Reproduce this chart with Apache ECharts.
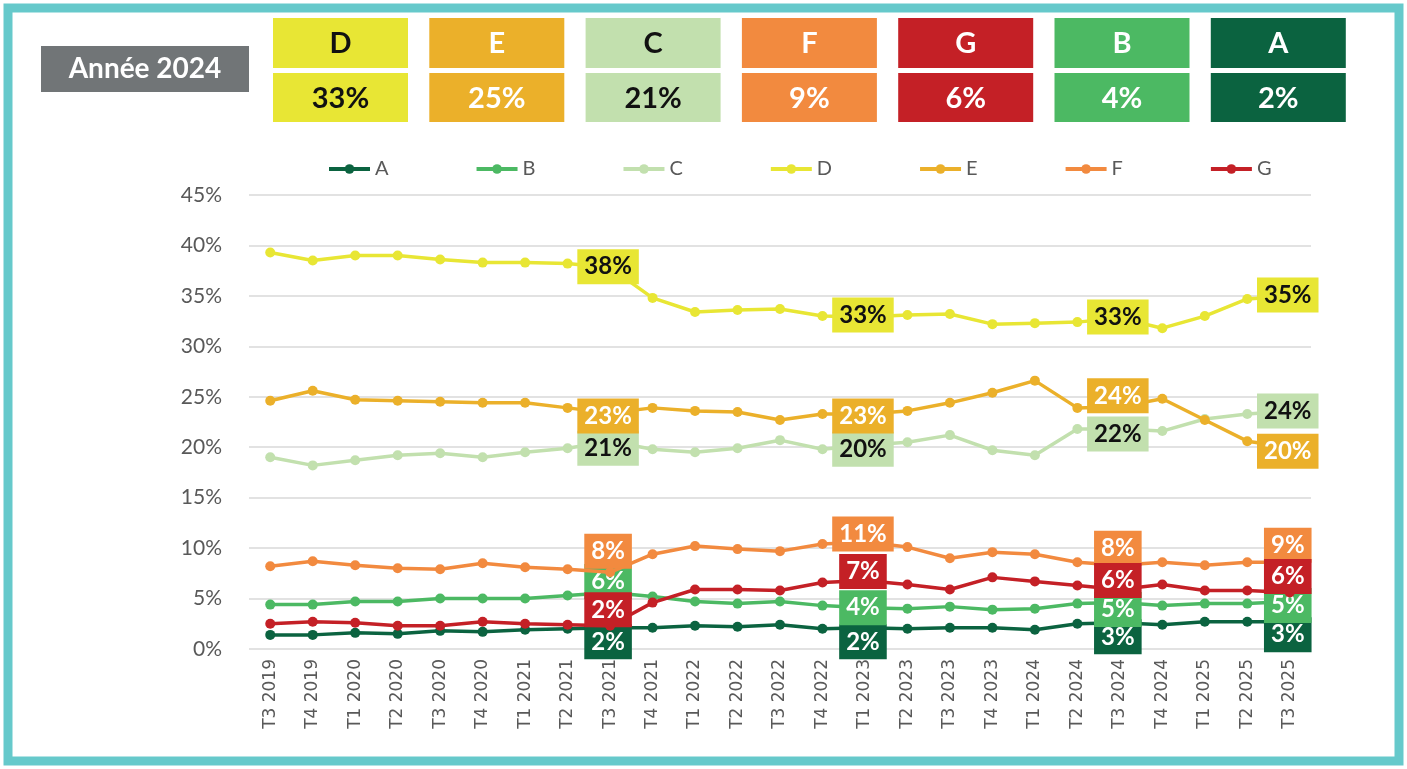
<!DOCTYPE html>
<html>
<head>
<meta charset="utf-8">
<title>Répartition par étiquette</title>
<script src="https://cdn.jsdelivr.net/npm/echarts@6/dist/echarts.min.js"></script>
<style>
  html, body { margin: 0; padding: 0; background: #fff; }
  #chart { width: 1407px; height: 769px; }
</style>
</head>
<body>
<div id="chart"></div>
<script>
// trimestres
var categories = ['T3 2019', 'T4 2019', 'T1 2020', 'T2 2020', 'T3 2020', 'T4 2020', 'T1 2021', 'T2 2021',
  'T3 2021', 'T4 2021', 'T1 2022', 'T2 2022', 'T3 2022', 'T4 2022', 'T1 2023', 'T2 2023', 'T3 2023',
  'T4 2023', 'T1 2024', 'T2 2024', 'T3 2024', 'T4 2024', 'T1 2025', 'T2 2025', 'T3 2025'];

// parts en %
var seriesA = [1.4, 1.4, 1.6, 1.5, 1.8, 1.7, 1.9, 2.0, 2.1, 2.1, 2.3, 2.2, 2.4, 2.0, 2.1, 2.0, 2.1, 2.1, 1.9, 2.5, 2.6, 2.4, 2.7, 2.7, 2.7];
var seriesB = [4.4, 4.4, 4.7, 4.7, 5.0, 5.0, 5.0, 5.3, 5.6, 5.2, 4.7, 4.5, 4.7, 4.3, 4.1, 4.0, 4.2, 3.9, 4.0, 4.5, 4.6, 4.3, 4.5, 4.5, 4.7];
var seriesC = [19.0, 18.2, 18.7, 19.2, 19.4, 19.0, 19.5, 19.9, 20.6, 19.8, 19.5, 19.9, 20.7, 19.8, 20.2, 20.5, 21.2, 19.7, 19.2, 21.8, 21.8, 21.6, 22.8, 23.3, 23.6];
var seriesD = [39.3, 38.5, 39.0, 39.0, 38.6, 38.3, 38.3, 38.2, 37.8, 34.8, 33.4, 33.6, 33.7, 33.0, 32.9, 33.1, 33.2, 32.2, 32.3, 32.4, 32.8, 31.8, 33.0, 34.7, 35.0];
var seriesE = [24.6, 25.6, 24.7, 24.6, 24.5, 24.4, 24.4, 23.9, 23.4, 23.9, 23.6, 23.5, 22.7, 23.3, 23.3, 23.6, 24.4, 25.4, 26.6, 23.9, 24.0, 24.8, 22.7, 20.6, 20.0];
var seriesF = [8.2, 8.7, 8.3, 8.0, 7.9, 8.5, 8.1, 7.9, 7.6, 9.4, 10.2, 9.9, 9.7, 10.4, 10.6, 10.1, 9.0, 9.6, 9.4, 8.6, 8.3, 8.6, 8.3, 8.6, 8.6];
var seriesG = [2.5, 2.7, 2.6, 2.3, 2.3, 2.7, 2.5, 2.4, 2.3, 4.6, 5.9, 5.9, 5.8, 6.6, 6.8, 6.4, 5.9, 7.1, 6.7, 6.3, 5.9, 6.4, 5.8, 5.8, 5.6];

// points étiquetés
var labeledIdx = [8, 14, 20, 24];

// bandeau année 2024
var headerGrades = ['D', 'E', 'C', 'F', 'G', 'B', 'A'];
var headerShares = [33, 25, 21, 9, 6, 4, 2];

var yTicks = [0, 45, 5]; // min, max, pas

var colors = {
  A: '#0b6340', B: '#4cb963', C: '#c2e0ae', D: '#e8e634',
  E: '#ebb02a', F: '#f28a3f', G: '#c42026'
};
var darkText = { C: true, D: true };

// décalage vertical des étiquettes (comme dans Excel, placées à la main)
var labelShift = {
  A: [14, 14, 14, 13],
  B: [-11, 0, 7, 4],
  C: [7, 4, 5, 0],
  D: [-1, -2, -1, -1],
  E: [3, 2, -11, 4],
  F: [-21, -8, -17, -17],
  G: [-16, -9, -9, -16]
};

var allSeries = { A: seriesA, B: seriesB, C: seriesC, D: seriesD, E: seriesE, F: seriesF, G: seriesG };
var fontMain = 'Lato, "Open Sans", sans-serif';

function buildData(name) {
  return allSeries[name].map(function (v, i) {
    var k = labeledIdx.indexOf(i);
    if (k < 0) return v;
    return {
      value: v,
      label: {
        show: true,
        position: 'inside',
        offset: [-2, labelShift[name][k]],
        formatter: function (p) { return Math.round(p.value) + '%'; },
        backgroundColor: colors[name],
        color: darkText[name] ? '#111' : '#fff',
        fontFamily: fontMain,
        fontWeight: 'bold',
        fontSize: 24,
        lineHeight: 30,
        padding: [3, 7, 2, 7]
      }
    };
  });
}

var names = ['A', 'B', 'C', 'D', 'E', 'F', 'G'];
var series = names.map(function (n, i) {
  return {
    name: n,
    type: 'line',
    data: buildData(n),
    symbol: 'circle',
    symbolSize: 10,
    z: 2 + i,
    lineStyle: { width: 3.5, color: colors[n] },
    itemStyle: { color: colors[n] },
    emphasis: { disabled: true }
  };
});

// en-tête
var graphic = [
  {
    type: 'rect', silent: true, z: 100,
    shape: { x: 8, y: 8, width: 1391, height: 753 },
    style: { fill: 'none', stroke: '#66c9cb', lineWidth: 9 }
  },
  {
    type: 'rect', silent: true,
    shape: { x: 41, y: 46, width: 208, height: 46 },
    style: { fill: '#717577' }
  },
  {
    type: 'text', silent: true,
    x: 145, y: 69,
    style: {
      text: 'Année 2024', fill: '#fff', font: 'bold 28px ' + fontMain,
      align: 'center', verticalAlign: 'middle'
    }
  }
];
headerGrades.forEach(function (g, i) {
  var x = 273 + i * 156.3;
  var txt = darkText[g] ? '#111' : '#fff';
  graphic.push({
    type: 'rect', silent: true,
    shape: { x: x, y: 18, width: 135, height: 50 },
    style: { fill: colors[g] }
  });
  graphic.push({
    type: 'rect', silent: true,
    shape: { x: x, y: 73, width: 135, height: 49 },
    style: { fill: colors[g] }
  });
  graphic.push({
    type: 'text', silent: true, x: x + 67.5, y: 44,
    style: { text: g, fill: txt, font: 'bold 29px ' + fontMain, align: 'center', verticalAlign: 'middle' }
  });
  graphic.push({
    type: 'text', silent: true, x: x + 67.5, y: 99,
    style: { text: headerShares[i] + '%', fill: txt, font: 'bold 29px ' + fontMain, align: 'center', verticalAlign: 'middle' }
  });
});

var myChart = echarts.init(document.getElementById('chart'));
var option = {
  animation: false,
  backgroundColor: '#fff',
  graphic: graphic,
  legend: {
    data: names,
    top: 154,
    left: 322,
    itemWidth: 41,
    itemHeight: 12,
    itemGap: 86,
    lineStyle: { width: 4 },
    textStyle: { color: '#595959', fontSize: 20, fontFamily: fontMain }
  },
  grid: { left: 249, right: 96, top: 195, bottom: 120, containLabel: false },
  xAxis: {
    type: 'category',
    data: categories,
    boundaryGap: true,
    axisLine: { show: false },
    axisTick: { show: false },
    axisLabel: {
      rotate: 90,
      interval: 0,
      margin: 10,
      color: '#595959',
      fontSize: 17,
      fontFamily: 'DejaVu Sans'
    }
  },
  yAxis: {
    type: 'value',
    min: yTicks[0],
    max: yTicks[1],
    interval: yTicks[2],
    axisLine: { show: false },
    axisTick: { show: false },
    axisLabel: {
      formatter: '{value}%',
      margin: 27,
      color: '#595959',
      fontSize: 21,
      fontFamily: fontMain
    },
    splitLine: { lineStyle: { color: '#d9d9d9', width: 1.5 } }
  },
  series: series
};
option && myChart.setOption(option);
</script>
</body>
</html>
